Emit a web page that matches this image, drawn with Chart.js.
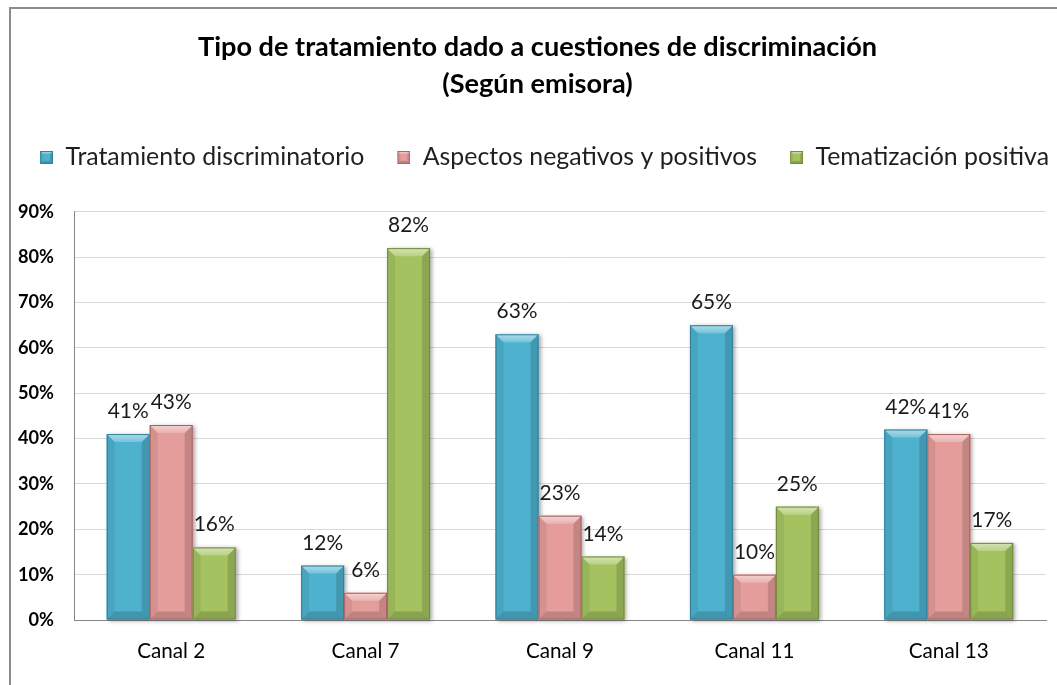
<!DOCTYPE html>
<html><head><meta charset="utf-8">
<script src="https://cdn.jsdelivr.net/npm/chart.js@4.4.1/dist/chart.umd.min.js"></script>
<style>
html,body{margin:0;padding:0;background:#fff;overflow:hidden}
#wrap{position:relative;width:1057px;height:685px;overflow:hidden}
#frame{position:absolute;left:9px;top:7px;width:1200px;height:800px;border:2px solid #8c8c8c;pointer-events:none;box-sizing:border-box}
canvas{position:absolute;left:0;top:0}
</style></head><body>
<div id="wrap"><canvas id="c" width="1057" height="685"></canvas><div id="frame"></div></div>
<script>
// ---- data ----
const titleLines = ['Tipo de tratamiento dado a cuestiones de discriminación', '(Según emisora)'];
const categories = ['Canal 2', 'Canal 7', 'Canal 9', 'Canal 11', 'Canal 13'];
const seriesNames = ['Tratamiento discriminatorio', 'Aspectos negativos y positivos', 'Tematización positiva'];
const discriminatorio = [41, 12, 63, 65, 42];
const aspectos = [43, 6, 23, 10, 41];
const tematizacion = [16, 82, 14, 25, 17];
const yMin = 0, yMax = 90, yStep = 10;

// ---- styles ----
const FAMILY = 'Lato';
const palette = [
  {base: '#4EB2CF', border: '#2F8099'},
  {base: '#E49D9B', border: '#A9625F'},
  {base: '#A4C360', border: '#72893B'}
];
const mctx = document.createElement('canvas').getContext('2d');
function fitSize(text, weight, target) {
  mctx.font = weight + ' 100px ' + FAMILY;
  return +(target * 100 / mctx.measureText(text).width).toFixed(2);
}
const titleSize = fitSize(titleLines[0], 'bold', 679);
const legendSize = fitSize(seriesNames[0], 'normal', 299);
const yTickSize = fitSize('90%', 'bold', 36);
const xTickSize = fitSize(categories[0], 'normal', 68);
const labelSize = fitSize('41%', 'normal', 41);

function drawBevelBar(ctx, L, T, R, B, pal, bev) {
  const w = R - L, h = B - T;
  if (h <= 0 || w <= 0) return;
  const b = Math.min(bev, h / 2, w / 2);
  ctx.save();
  ctx.fillStyle = pal.base;
  ctx.fillRect(L, T, w, h);
  // left
  ctx.beginPath(); ctx.moveTo(L, T); ctx.lineTo(L + b, T + b); ctx.lineTo(L + b, B - b); ctx.lineTo(L, B); ctx.closePath();
  ctx.fillStyle = 'rgba(0,0,0,0.07)'; ctx.fill();
  // right
  ctx.beginPath(); ctx.moveTo(R, T); ctx.lineTo(R - b, T + b); ctx.lineTo(R - b, B - b); ctx.lineTo(R, B); ctx.closePath();
  ctx.fillStyle = 'rgba(0,0,0,0.14)'; ctx.fill();
  // bottom
  ctx.beginPath(); ctx.moveTo(L, B); ctx.lineTo(L + b, B - b); ctx.lineTo(R - b, B - b); ctx.lineTo(R, B); ctx.closePath();
  ctx.fillStyle = 'rgba(0,0,0,0.16)'; ctx.fill();
  // top
  ctx.beginPath(); ctx.moveTo(L, T); ctx.lineTo(R, T); ctx.lineTo(R - b, T + b); ctx.lineTo(L + b, T + b); ctx.closePath();
  const g = ctx.createLinearGradient(0, T, 0, T + b);
  g.addColorStop(0, 'rgba(255,255,255,0.55)');
  g.addColorStop(1, 'rgba(255,255,255,0.22)');
  ctx.fillStyle = g; ctx.fill();
  ctx.strokeStyle = pal.border; ctx.lineWidth = 1;
  ctx.strokeRect(L + 0.5, T + 0.5, w - 1, h - 1);
  ctx.restore();
}

const E = 14;
function makeMarker(pal) {
  const c = document.createElement('canvas');
  c.width = 13 + E; c.height = 13;
  drawBevelBar(c.getContext('2d'), E, 0, E + 13, 13, pal, 3);
  return c;
}
const markers = palette.map(makeMarker);

function barRect(bar) {
  const p = bar.getProps(['x', 'y', 'base', 'width'], true);
  return {L: p.x - p.width / 2, R: p.x + p.width / 2, T: Math.min(p.y, p.base), B: Math.max(p.y, p.base)};
}

const bevelPlugin = {
  id: 'bevel',
  beforeDatasetsDraw(chart) {
    const ctx = chart.ctx;
    chart.data.datasets.forEach((ds, i) => {
      chart.getDatasetMeta(i).data.forEach(bar => {
        const r = barRect(bar);
        ctx.save();
        ctx.shadowColor = 'rgba(0,0,0,0.35)';
        ctx.shadowBlur = 4; ctx.shadowOffsetX = 2; ctx.shadowOffsetY = 1;
        ctx.fillStyle = '#fff';
        ctx.fillRect(r.L, r.T, r.R - r.L, r.B - r.T);
        ctx.restore();
      });
    });
  },
  afterDatasetsDraw(chart) {
    const ctx = chart.ctx;
    chart.data.datasets.forEach((ds, i) => {
      chart.getDatasetMeta(i).data.forEach(bar => {
        const r = barRect(bar);
        drawBevelBar(ctx, r.L, r.T, r.R, r.B, palette[i], 8);
      });
    });
    ctx.save();
    ctx.font = labelSize + 'px ' + FAMILY;
    ctx.fillStyle = '#1a1a1a';
    ctx.textAlign = 'center';
    ctx.textBaseline = 'alphabetic';
    chart.data.datasets.forEach((ds, i) => {
      chart.getDatasetMeta(i).data.forEach((bar, j) => {
        ctx.fillText(ds.data[j] + '%', bar.x, bar.y - 16);
      });
    });
    ctx.restore();
  }
};

const seriesData = [discriminatorio, aspectos, tematizacion];
new Chart(document.getElementById('c'), {
  type: 'bar',
  data: {
    labels: categories,
    datasets: seriesNames.map((name, i) => ({
      label: name,
      data: seriesData[i],
      xAxisID: 'x', yAxisID: 'y',
      backgroundColor: palette[i].base,
      borderColor: palette[i].border,
      borderWidth: 0,
      categoryPercentage: 0.663,
      barPercentage: 1
    }))
  },
  options: {
    responsive: false,
    animation: false,
    devicePixelRatio: 1,
    layout: {padding: {top: 0, left: -10, right: -28, bottom: 0}},
    plugins: {
      title: {
        display: true, text: titleLines, color: '#000',
        font: {family: FAMILY, size: titleSize, weight: 'bold', lineHeight: '37px'},
        padding: {top: 28.5, bottom: 23.5}
      },
      legend: {
        position: 'top', align: 'center',
        labels: {
          usePointStyle: true, pointStyleWidth: 13 + E, boxHeight: 13,
          padding: 19, color: '#1f1f1f',
          font: {family: FAMILY, size: legendSize},
          generateLabels(chart) {
            const items = Chart.defaults.plugins.legend.labels.generateLabels(chart);
            items.forEach((it, i) => { it.pointStyle = markers[i]; });
            return items;
          }
        }
      },
      tooltip: {enabled: false}
    },
    scales: {
      x: {
        position: 'bottom',
        grid: {display: false, drawTicks: false},
        border: {display: true, color: '#868686'},
        ticks: {color: '#000', font: {family: FAMILY, size: xTickSize}, padding: 19, maxRotation: 0, autoSkip: false},
        afterFit(s) { s.height = 65; }
      },
      xTop: {
        type: 'category', position: 'top', labels: categories, display: true,
        grid: {display: false, drawTicks: false}, border: {display: false},
        ticks: {display: false},
        afterFit(s) { s.height = 32; }
      },
      y: {
        position: 'left', min: yMin, max: yMax,
        grid: {color: '#D9D9D9', drawTicks: false},
        border: {display: true, color: '#868686'},
        ticks: {stepSize: yStep, padding: 20, color: '#000',
          font: {family: FAMILY, size: yTickSize, weight: 'bold'},
          callback: v => v + '%'},
        afterFit(s) { s.width = 84; }
      },
      yRight: {
        type: 'linear', position: 'right', display: true,
        grid: {display: false, drawTicks: false}, border: {display: false},
        ticks: {display: false},
        afterFit(s) { s.width = 39; }
      }
    }
  },
  plugins: [bevelPlugin]
});
</script>
</body></html>
